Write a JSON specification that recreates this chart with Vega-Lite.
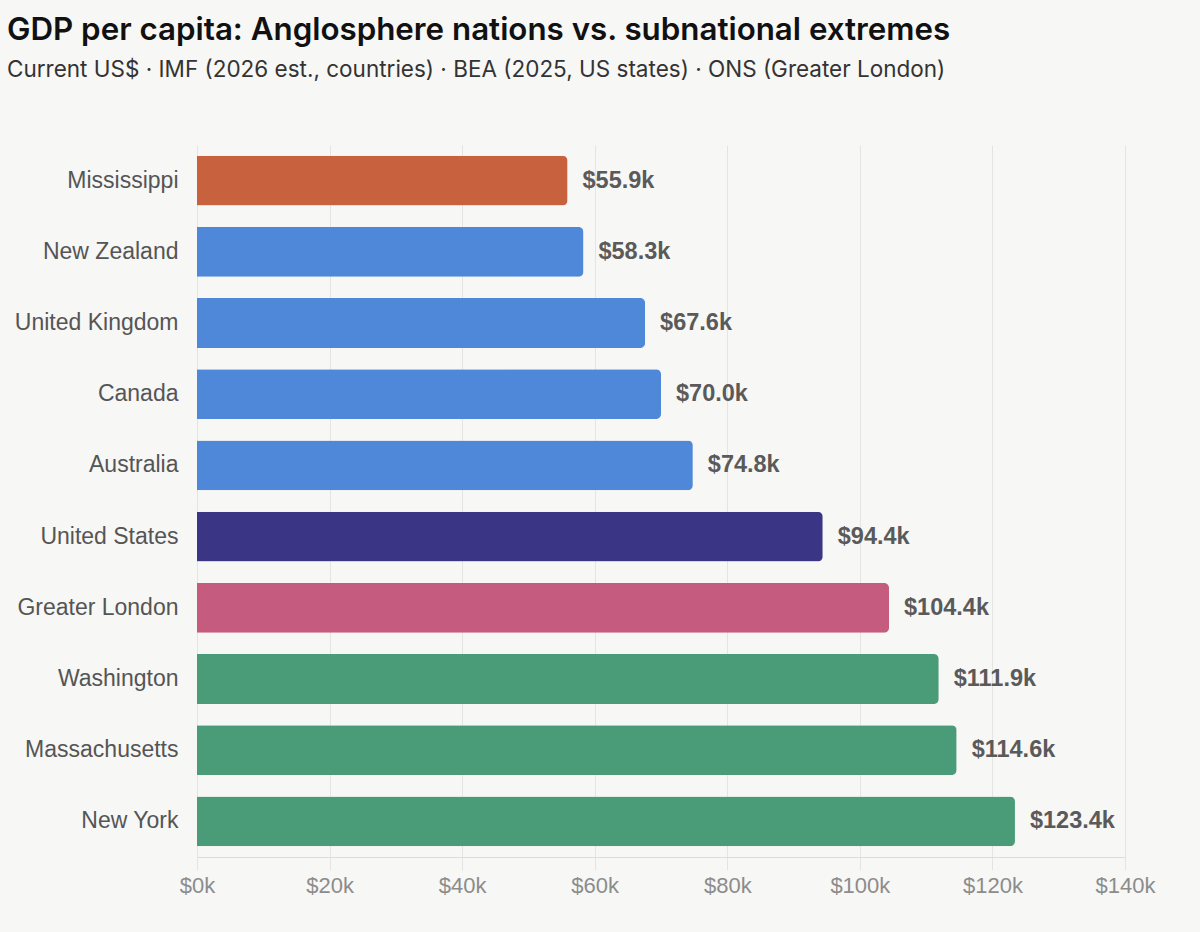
{
  "$schema": "https://vega.github.io/schema/vega-lite/v6.json",
  "autosize": {"type": "none"},
  "width": 928,
  "height": 712,
  "padding": {"left": 197, "top": 145, "right": 75, "bottom": 75},
  "background": "#f7f7f5",
  "view": {"stroke": null},
  "title": {
    "text": "GDP per capita: Anglosphere nations vs. subnational extremes",
    "subtitle": "Current US$ · IMF (2026 est., countries) · BEA (2025, US states) · ONS (Greater London)",
    "anchor": "start",
    "frame": "group",
    "dx": -190,
    "offset": 64,
    "font": "Inter",
    "fontSize": 31.3,
    "fontWeight": 600,
    "color": "#111111",
    "subtitleFont": "Inter",
    "subtitleFontSize": 22.5,
    "subtitleColor": "#333333",
    "subtitlePadding": 12
  },
  "data": {
    "values": [
      {"name": "Mississippi", "value": 55900, "label": "$55.9k", "group": "lowstate"},
      {"name": "New Zealand", "value": 58300, "label": "$58.3k", "group": "country"},
      {"name": "United Kingdom", "value": 67600, "label": "$67.6k", "group": "country"},
      {"name": "Canada", "value": 70000, "label": "$70.0k", "group": "country"},
      {"name": "Australia", "value": 74800, "label": "$74.8k", "group": "country"},
      {"name": "United States", "value": 94400, "label": "$94.4k", "group": "us"},
      {"name": "Greater London", "value": 104400, "label": "$104.4k", "group": "london"},
      {"name": "Washington", "value": 111900, "label": "$111.9k", "group": "highstate"},
      {"name": "Massachusetts", "value": 114600, "label": "$114.6k", "group": "highstate"},
      {"name": "New York", "value": 123400, "label": "$123.4k", "group": "highstate"}
    ]
  },
  "encoding": {
    "y": {
      "field": "name",
      "type": "nominal",
      "sort": null,
      "title": null,
      "scale": {"paddingInner": 0.3, "paddingOuter": 0.15},
      "axis": {
        "domain": false,
        "ticks": false,
        "labelFont": "Liberation Sans",
        "labelFontSize": 23,
        "labelColor": "#555555",
        "labelPadding": 19
      }
    },
    "x": {
      "field": "value",
      "type": "quantitative",
      "title": null,
      "scale": {"domain": [0, 140000]},
      "axis": {
        "values": [0, 20000, 40000, 60000, 80000, 100000, 120000, 140000],
        "labelExpr": "'$' + (datum.value / 1000) + 'k'",
        "labelFlush": false,
        "labelOverlap": false,
        "labelFont": "Liberation Sans",
        "labelFontSize": 22,
        "labelColor": "#8c8c8c",
        "labelPadding": 5,
        "grid": true,
        "gridColor": "#e4e4e2",
        "gridWidth": 1,
        "domainColor": "#dcdcda",
        "tickColor": "#e4e4e2",
        "tickSize": 13
      }
    }
  },
  "layer": [
    {
      "mark": {"type": "bar", "cornerRadiusEnd": 5},
      "encoding": {
        "color": {
          "field": "group",
          "type": "nominal",
          "legend": null,
          "scale": {
            "domain": ["lowstate", "country", "us", "london", "highstate"],
            "range": ["#c8623e", "#4f88d8", "#3b3585", "#c55c80", "#4a9c79"]
          }
        }
      }
    },
    {
      "mark": {
        "type": "text",
        "align": "left",
        "baseline": "middle",
        "dx": 15,
        "font": "Liberation Sans",
        "fontSize": 23.5,
        "fontWeight": "bold",
        "color": "#5a5a5a"
      },
      "encoding": {
        "text": {"field": "label"}
      }
    }
  ]
}
